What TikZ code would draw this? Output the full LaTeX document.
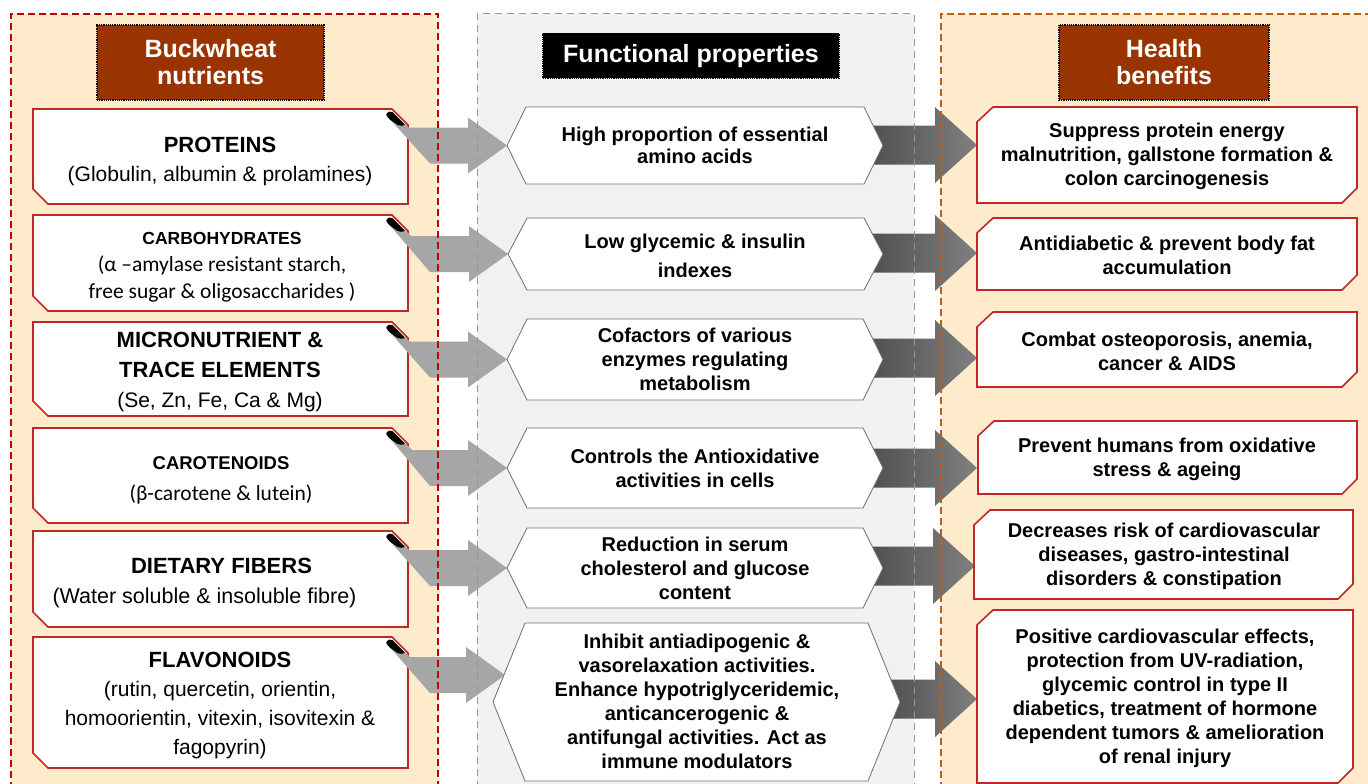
\documentclass[tikz,border=0pt]{standalone}
\usepackage{fontspec}
\setmainfont{Liberation Sans}
\newfontfamily\calfont{Carlito}
\usetikzlibrary{calc}

\definecolor{leftbg}{RGB}{253,235,204}
\definecolor{midbg}{RGB}{241,241,241}
\definecolor{hdrred}{RGB}{153,51,0}
\definecolor{boxred}{RGB}{192,40,40}
\definecolor{lpanel}{RGB}{192,0,0}
\definecolor{rpanel}{RGB}{197,90,17}
\definecolor{mpanel}{RGB}{150,150,150}
\definecolor{arrgray}{RGB}{166,166,166}
\definecolor{darkA}{RGB}{80,80,80}
\definecolor{darkB}{RGB}{128,128,128}
\definecolor{hexline}{RGB}{110,110,110}

\tikzset{
  boxline/.style={draw=boxred, line width=1.6pt, fill=white},
  hexstyle/.style={draw=hexline, line width=0.8pt, fill=white},
  panelborder/.style={line width=1.3pt, dash pattern=on 7pt off 4pt},
  hdrbox/.style={draw=black, densely dotted, line width=1.2pt, text=white, align=center, inner sep=0pt,
    font=\bfseries\fontsize{25}{27}\selectfont},
  nuttext/.style={align=center, inner sep=0pt, font=\fontsize{21}{29}\selectfont},
  caltext/.style={align=center, inner sep=0pt, font=\calfont\fontsize{21.5}{27}\selectfont},
  midtext/.style={align=center, inner sep=0pt, font=\bfseries\fontsize{20}{24}\selectfont},
  bentext/.style={align=center, inner sep=0pt, font=\bfseries\fontsize{20}{24}\selectfont}
}

% left nutrient box: top, bottom
\newcommand{\nutshape}[2]{%
  \draw[boxline] (33,#1) -- (392,#1) -- (408,#1+16) -- (408,#2) -- (48,#2) -- (33,#2-15) -- cycle;}
% black folded corner: top
\newcommand{\nutfold}[1]{%
  \fill[black, rounded corners=2pt] (385.5,#1+5) -- (391,#1+1.6) -- (405.6,#1+16.2) -- (399,#1+17) -- (389,#1+10) -- cycle;}
% right benefit box: top, bottom, left, right
\newcommand{\benshape}[4]{%
  \draw[boxline] (#3,#1+15) -- (#3+16,#1) -- (#4,#1) -- (#4,#2-15) -- (#4-15,#2) -- (#3,#2) -- cycle;}
% hexagon: top, bottom, left point, right point, inset
\newcommand{\hexshape}[5]{%
  \draw[hexstyle] (#3+#5,#1) -- (#4-#5,#1) -- (#4,#1/2+#2/2) -- (#4-#5,#2) -- (#3+#5,#2) -- (#3,#1/2+#2/2) -- cycle;}
% bent gray arrow from a nutrient box corner to a hexagon
\newcommand{\nutarrow}[2]{%
  \fill[arrgray] let \p1=(#1), \p2=(#2), \n1={\x1-3pt+\y1-\y2-33pt} in
    (\x1-21pt,\y1-7pt) -- (\x1-3pt,\y1-15pt) -- (\n1,\y2+18pt)
    -- (\x2-39pt,\y2+18pt) -- (\x2-39pt,\y2+28pt) -- (\x2,\y2) -- (\x2-39pt,\y2-28pt)
    -- (\x2-39pt,\y2-18pt) -- (\x1+22pt,\y2-18pt) -- cycle;}
% dark block arrow from a hexagon to a benefit box
\newcommand{\hexarrow}[2]{%
  \shade[left color=darkA, right color=darkB] let \p1=(#1), \p2=(#2) in
    (\x1-13pt,\y2+19.5pt) -- (\x2-42pt,\y2+19.5pt) -- (\x2-42pt,\y2+38pt) -- (\x2,\y2)
    -- (\x2-42pt,\y2-38pt) -- (\x2-42pt,\y2-19.5pt) -- (\x1-13pt,\y2-19.5pt) -- cycle;}

\begin{document}
\begin{tikzpicture}[x=1pt,y=-1pt]
\useasboundingbox (0,0) rectangle (1368,784);
\clip (0,0) rectangle (1368,784);

% panel fills
\fill[leftbg] (11,14) rectangle (438,800);
\fill[midbg] (477,14) rectangle (914,800);
\fill[leftbg] (941,14) rectangle (1390,800);

% anchor coordinates
\coordinate (nb1) at (408,109);
\coordinate (nb2) at (408,215);
\coordinate (nb3) at (408,322);
\coordinate (nb4) at (408,428);
\coordinate (nb5) at (408,531);
\coordinate (nb6) at (408,637);
\coordinate (hx1w) at (507,145.5);
\coordinate (hx2w) at (508,254);
\coordinate (hx3w) at (507,359.5);
\coordinate (hx4w) at (507,468);
\coordinate (hx5w) at (507,568);
\coordinate (hx6in) at (505,675);
\coordinate (hx1e) at (883,145.5);
\coordinate (hx2e) at (883,254);
\coordinate (hx3e) at (883,359.5);
\coordinate (hx4e) at (883,468);
\coordinate (hx5e) at (883,568);
\coordinate (hx6e) at (900,702);
\coordinate (rb1w) at (977,145);
\coordinate (rb2w) at (977,253);
\coordinate (rb3w) at (977,358);
\coordinate (rb4w) at (977,468);
\coordinate (rb5w) at (975,566);
\coordinate (rb6w) at (977,699);

% left boxes
\nutshape{109}{204}
\nutshape{215}{311}
\nutshape{322}{416}
\nutshape{428}{523}
\nutshape{531}{627}
\nutshape{637}{768}

% gray arrows
\nutarrow{nb1}{hx1w}
\nutarrow{nb2}{hx2w}
\nutarrow{nb3}{hx3w}
\nutarrow{nb4}{hx4w}
\nutarrow{nb5}{hx5w}
\nutarrow{nb6}{hx6in}

% folds
\nutfold{109}
\nutfold{215}
\nutfold{322}
\nutfold{428}
\nutfold{531}
\nutfold{637}

% dark arrows
\hexarrow{hx1e}{rb1w}
\hexarrow{hx2e}{rb2w}
\hexarrow{hx3e}{rb3w}
\hexarrow{hx4e}{rb4w}
\hexarrow{hx5e}{rb5w}
\hexarrow{hx6e}{rb6w}

% hexagons
\hexshape{107}{184}{507}{883}{19}
\hexshape{218}{290}{508}{883}{19}
\hexshape{319}{400}{507}{883}{20}
\hexshape{428}{508}{507}{883}{20}
\hexshape{528}{608}{507}{883}{20}
\hexshape{623}{781}{493}{900}{32}

% right boxes
\benshape{107}{203}{977}{1357}
\benshape{218}{290}{977}{1357}
\benshape{312}{387}{977}{1357}
\benshape{421}{494}{978}{1357}
\benshape{510}{599}{974}{1353}
\benshape{610}{783}{977}{1353}

% panel borders
\draw[lpanel, panelborder] (11,800) -- (11,14) -- (438,14) -- (438,800);
\draw[mpanel, line width=1pt, dash pattern=on 7pt off 5pt] (477,800) -- (477,14) -- (914,14) -- (914,800);
\draw[rpanel, panelborder] (941,800) -- (941,14) -- (1390,14);

% headers
\node[hdrbox, fill=hdrred, minimum width=227pt, minimum height=75pt] (hdrL) at (210.5,62.5) {Buckwheat\\nutrients};
\node[hdrbox, fill=black, minimum width=296pt, minimum height=45pt] (hdrM) at (691,56) {Functional properties};
\node[hdrbox, fill=hdrred, minimum width=210pt, minimum height=75pt] (hdrR) at (1164,62.5) {Health\\benefits};

% left texts
\node[nuttext] (n1) at (220,161) {{\bfseries\fontsize{22}{29}\selectfont PROTEINS}\\(Globulin, albumin \& prolamines)};
\node[caltext] (n2) at (222,267.5) {{\normalfont\bfseries\fontsize{17.5}{27}\selectfont CARBOHYDRATES}\\(α –amylase resistant starch,\\free sugar \& oligosaccharides )};
\node[nuttext, font=\fontsize{21}{30}\selectfont] (n3) at (220,372) {{\bfseries\fontsize{22}{30}\selectfont MICRONUTRIENT \&}\\{\bfseries\fontsize{22}{30}\selectfont TRACE ELEMENTS}\\(Se, Zn, Fe, Ca \& Mg)};
\node[caltext, font=\calfont\fontsize{21.5}{31}\selectfont] (n4) at (221,480.5) {{\normalfont\bfseries\fontsize{18.5}{31}\selectfont CAROTENOIDS}\\(β-carotene \& lutein)};
\node[nuttext, font=\fontsize{21.5}{30}\selectfont] (n5) at (221.5,583) {{\bfseries\fontsize{22}{30}\selectfont DIETARY FIBERS}\\(Water soluble \& insoluble fibre)\hbox to 34pt{}};
\node[nuttext] (n6) at (220,705.5) {{\bfseries\fontsize{22}{29}\selectfont FLAVONOIDS}\\(rutin, quercetin, orientin,\\homoorientin, vitexin, isovitexin \&\\fagopyrin)};

% center texts
\node[midtext, font=\bfseries\fontsize{20}{22}\selectfont] (c1) at (695,145.5) {High proportion of essential\\amino acids};
\node[midtext, font=\bfseries\fontsize{20}{29}\selectfont] (c2) at (695,255.5) {Low glycemic \& insulin\\indexes};
\node[midtext] (c3) at (695,359) {Cofactors of various\\enzymes regulating\\metabolism};
\node[midtext] (c4) at (695,468) {Controls the Antioxidative\\activities in cells};
\node[midtext] (c5) at (695,568.5) {Reduction in serum\\cholesterol and glucose\\content};
\node[midtext] (c6) at (697,701.5) {Inhibit antiadipogenic \&\\vasorelaxation activities.\\Enhance hypotriglyceridemic,\\anticancerogenic \&\\antifungal activities. Act as\\immune modulators};

% right texts
\node[bentext] (r1) at (1167,156.5) {Suppress protein energy\\malnutrition, gallstone formation \&\\colon carcinogenesis};
\node[bentext] (r2) at (1167,255) {Antidiabetic \& prevent body fat\\accumulation};
\node[bentext] (r3) at (1167,351) {Combat osteoporosis, anemia,\\cancer \& AIDS};
\node[bentext] (r4) at (1167,459) {Prevent humans from oxidative\\stress \& ageing};
\node[bentext] (r5) at (1164,556) {Decreases risk of cardiovascular\\diseases, gastro-intestinal\\disorders \& constipation};
\node[bentext] (r6) at (1165,698.5) {Positive cardiovascular effects,\\protection from UV-radiation,\\glycemic control in type II\\diabetics, treatment of hormone\\dependent tumors \& amelioration\\of renal injury};
\end{tikzpicture}
\end{document}
